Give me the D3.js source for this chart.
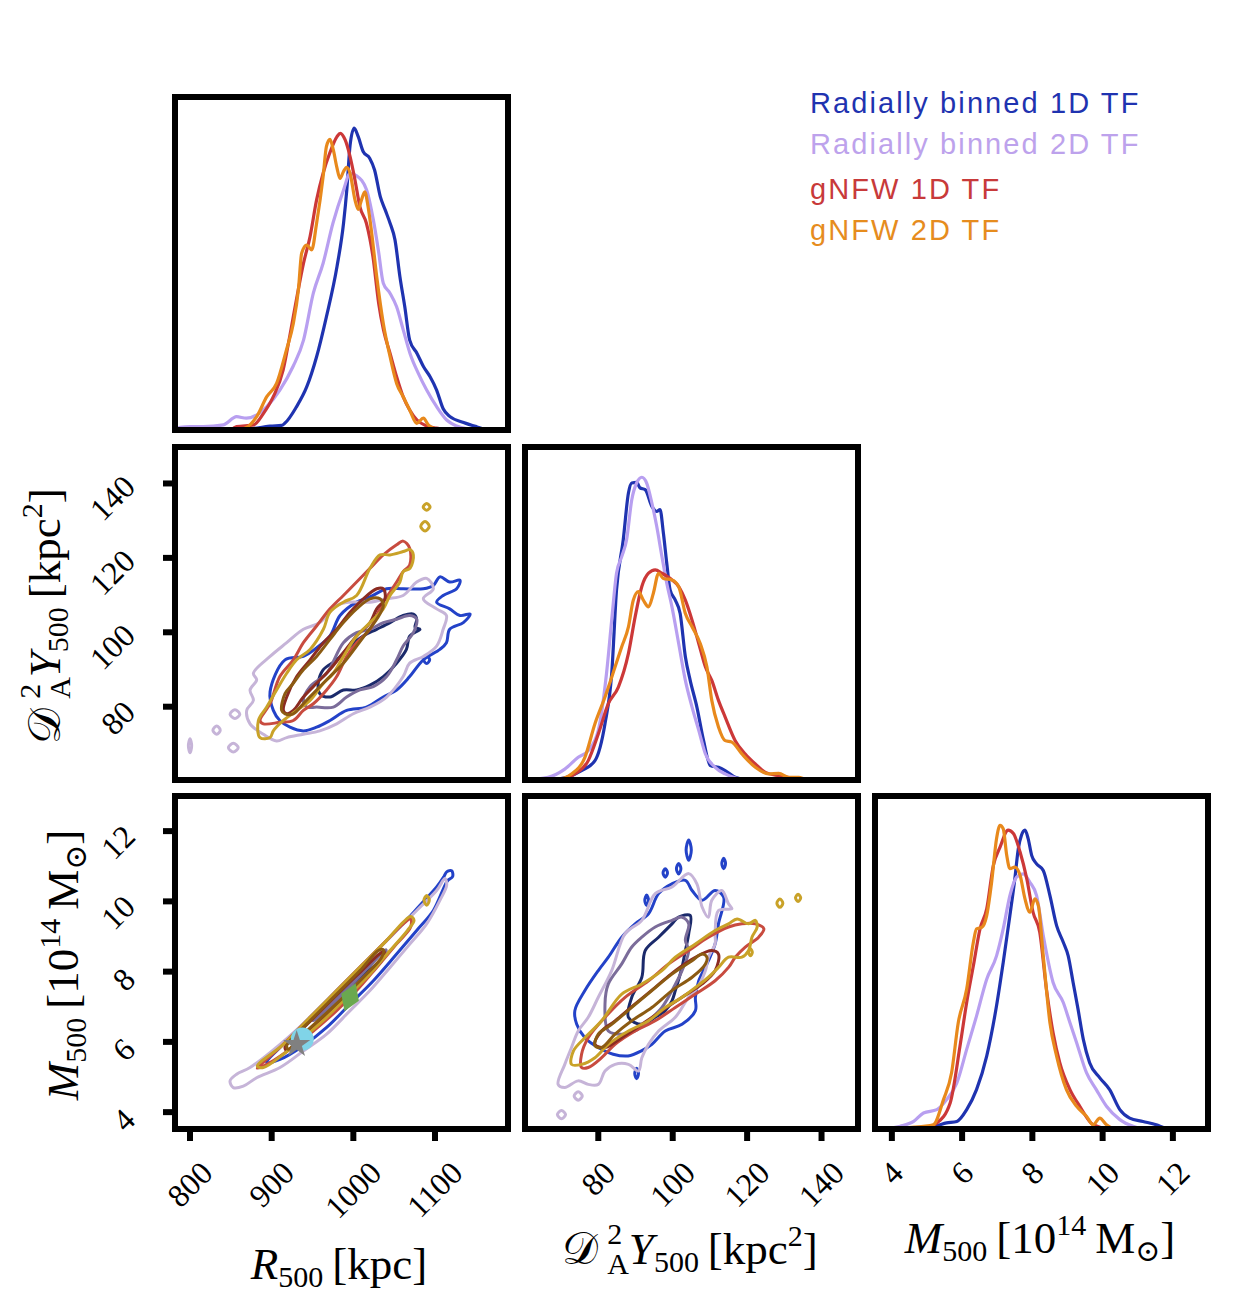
<!DOCTYPE html>
<html><head><meta charset="utf-8">
<script src="https://cdn.jsdelivr.net/npm/d3@7"></script>
<style>body{margin:0;background:#fff}</style>
</head><body>
<svg id="c" width="1233" height="1313"></svg>
<script>
// ---------------- DATA ----------------
const seriesNames = ["Radially binned 1D TF","Radially binned 2D TF","gNFW 1D TF","gNFW 2D TF"];
const R500_ticks = [800,900,1000,1100];
const DY_ticks = [80,100,120,140];
const M500_ticks = [4,6,8,10,12];
const R500_range = [781.6,1189.4];
const DY_range = [60.3,149.8];
const M500_range = [3.52,13.0];

// 1D marginals: [value, normalised density]
const margR_rb1d = [[782,0],[860,0.002],[886,0.008],[898,0.013],[912,0.015],[916,0.022],[930,0.075],[943,0.143],[955,0.242],[967,0.374],[980,0.54],[988,0.683],[992,0.793],[996,0.94],[1001,0.997],[1006,0.969],[1012,0.92],[1020,0.898],[1026,0.859],[1033,0.771],[1039,0.727],[1045,0.683],[1051,0.628],[1057,0.507],[1063,0.407],[1069,0.297],[1078,0.253],[1086,0.209],[1094,0.176],[1102,0.132],[1110,0.07],[1118,0.045],[1135,0.025],[1151,0.011],[1163,0.002],[1189,0]];
const margR_rb2d = [[782,0.005],[788,0.009],[800,0.011],[816,0.011],[841,0.017],[857,0.044],[869,0.039],[882,0.05],[894,0.077],[910,0.132],[926,0.209],[939,0.297],[951,0.452],[963,0.551],[975,0.683],[988,0.793],[996,0.848],[1004,0.84],[1016.3,0.793],[1024.5,0.694],[1030.6,0.595],[1036.7,0.485],[1044.9,0.452],[1053,0.407],[1061.2,0.33],[1069.4,0.253],[1079.6,0.187],[1089.8,0.132],[1102,0.077],[1114.3,0.033],[1126.5,0.013],[1140,0.004],[1160,0]];
const margR_gn1d = [[850,0],[857,0.011],[878,0.017],[890,0.055],[902,0.11],[914,0.198],[922,0.308],[931,0.441],[939,0.551],[947,0.639],[955,0.76],[963,0.848],[971,0.914],[980,0.969],[984,0.98],[990,0.958],[996,0.903],[1002,0.826],[1008,0.738],[1016,0.683],[1024,0.573],[1031,0.419],[1037,0.33],[1045,0.253],[1053,0.176],[1061,0.11],[1069,0.066],[1078,0.033],[1090,0.013],[1102,0.006],[1120,0]];
const margR_gn2d = [[860,0],[873.5,0.017],[881.6,0.044],[894,0.11],[906,0.154],[918,0.264],[926.5,0.352],[932.7,0.463],[936.7,0.584],[942.9,0.611],[949,0.595],[955,0.683],[963,0.837],[967,0.936],[971.4,0.96],[975.5,0.925],[979.6,0.87],[983.7,0.831],[987.8,0.853],[991.8,0.868],[996,0.848],[1002,0.76],[1006,0.729],[1010,0.76],[1014,0.787],[1018,0.738],[1022,0.661],[1028.6,0.507],[1036.7,0.352],[1045,0.242],[1053,0.154],[1061,0.11],[1069,0.066],[1077.6,0.022],[1085.7,0.039],[1091.8,0.017],[1098,0.006],[1110,0]];

const margY_rb1d = [[60.3,0],[66.5,0],[71,0.007],[75.5,0.031],[79.1,0.064],[81.8,0.186],[83.6,0.351],[84.9,0.628],[86.7,0.793],[88.1,0.948],[89,0.981],[90.3,0.983],[91.2,0.965],[92.6,0.959],[94.4,0.904],[95.7,0.887],[96.6,0.893],[97.5,0.815],[98.4,0.716],[99.3,0.628],[100.7,0.594],[102,0.55],[103.4,0.407],[104.7,0.329],[106.5,0.241],[108.3,0.13],[110.1,0.048],[112.3,0.042],[114.1,0.031],[116.8,0.009],[120.4,0],[149.8,0]];
const margY_rb2d = [[60.3,0],[66.5,0.009],[71,0.036],[74.6,0.075],[77.3,0.097],[80,0.164],[82.2,0.351],[83.6,0.528],[84.9,0.683],[86.3,0.738],[87.6,0.793],[89,0.926],[90.3,0.981],[91.7,1.0],[93,0.981],[94.4,0.915],[95.7,0.838],[97.1,0.738],[98.4,0.65],[99.8,0.572],[101.6,0.451],[103.4,0.329],[105.2,0.241],[107,0.164],[108.8,0.086],[111.4,0.042],[114.1,0.02],[116.8,0.007],[119.5,0],[149.8,0]];
const margY_gn1d = [[60.3,0],[70.1,0.003],[73.7,0.02],[77.3,0.064],[80,0.152],[82.7,0.252],[85.4,0.307],[88.1,0.418],[89.9,0.539],[91.7,0.639],[93.5,0.683],[95.3,0.694],[97.1,0.683],[99.8,0.661],[101.6,0.639],[103.4,0.594],[105.2,0.528],[107,0.451],[108.8,0.373],[110.5,0.329],[112.3,0.263],[114.1,0.208],[116.8,0.13],[119.5,0.086],[122.2,0.053],[124.9,0.025],[128.5,0.014],[132.1,0.007],[135.7,0],[149.8,0]];
const margY_gn2d = [[60.3,0],[69.2,0.003],[72.8,0.02],[76.4,0.075],[79.1,0.186],[81.8,0.274],[84.5,0.373],[86.3,0.44],[88.1,0.506],[89.4,0.594],[90.8,0.622],[92.1,0.594],[93.5,0.572],[94.8,0.617],[96.2,0.683],[97.5,0.666],[99.8,0.661],[101.6,0.639],[103.4,0.55],[105.2,0.506],[107.4,0.451],[109.2,0.373],[110.5,0.263],[112.3,0.175],[114.1,0.13],[115.9,0.125],[118.6,0.086],[122.2,0.042],[125.8,0.02],[128.5,0.022],[131.2,0.009],[133.9,0.009],[135.7,0.003],[149.8,0]];

const margM_rb1d = [[3.52,0],[5.18,0.009],[5.56,0.02],[5.85,0.025],[6.13,0.064],[6.41,0.13],[6.7,0.241],[6.98,0.407],[7.17,0.55],[7.36,0.705],[7.5,0.826],[7.6,0.926],[7.69,0.97],[7.79,0.987],[7.88,0.959],[7.98,0.904],[8.12,0.876],[8.31,0.854],[8.5,0.771],[8.69,0.672],[8.88,0.617],[9.02,0.572],[9.16,0.484],[9.3,0.396],[9.45,0.296],[9.63,0.219],[9.92,0.169],[10.2,0.13],[10.49,0.064],[10.77,0.036],[11.15,0.025],[11.53,0.014],[11.81,0.003],[13,0]];
const margM_rb2d = [[3.52,0],[3.67,0],[4.24,0.009],[4.62,0.025],[4.9,0.053],[5.28,0.064],[5.56,0.097],[5.85,0.152],[6.13,0.263],[6.41,0.373],[6.7,0.495],[6.98,0.572],[7.17,0.661],[7.36,0.771],[7.55,0.832],[7.74,0.843],[7.93,0.815],[8.12,0.771],[8.31,0.639],[8.59,0.484],[8.88,0.418],[9.07,0.351],[9.26,0.285],[9.54,0.186],[9.82,0.13],[10.11,0.075],[10.49,0.031],[10.87,0.009],[11.24,0],[13,0]];
const margM_gn1d = [[3.52,0],[4.9,0.003],[5.28,0.02],[5.66,0.086],[5.94,0.274],[6.13,0.418],[6.32,0.539],[6.51,0.661],[6.7,0.727],[6.89,0.871],[7.08,0.931],[7.31,0.987],[7.46,0.976],[7.65,0.915],[7.84,0.827],[8.02,0.716],[8.21,0.65],[8.4,0.462],[8.59,0.318],[8.78,0.219],[9.07,0.13],[9.35,0.075],[9.73,0.014],[10.11,0.003],[13,0]];
const margM_gn2d = [[3.52,0],[4.9,0.009],[5.18,0.014],[5.47,0.097],[5.7,0.186],[5.89,0.351],[6.13,0.462],[6.32,0.617],[6.41,0.661],[6.56,0.666],[6.7,0.705],[6.84,0.815],[6.98,0.959],[7.08,1.003],[7.17,0.992],[7.27,0.904],[7.36,0.86],[7.5,0.865],[7.65,0.838],[7.79,0.76],[7.93,0.716],[8.07,0.76],[8.17,0.738],[8.31,0.572],[8.5,0.351],[8.69,0.241],[8.97,0.13],[9.26,0.075],[9.54,0.042],[9.73,0.014],[9.92,0.036],[10.11,0.014],[10.3,0.003],[13,0]];

// 2D contours (R500 vs DY)
const cRY_rb1d_outer = [[898,84],[916.3,92.6],[938.8,93.5],[955,95.8],[971.4,99],[983.7,104.5],[1004,108.1],[1020.4,109.5],[1040.8,111.7],[1061,111.7],[1085.7,111.7],[1098,112.6],[1106,114.9],[1118,113.5],[1130.6,114],[1126.5,111.7],[1110,109.9],[1102,108.1],[1118,106.3],[1130.6,104.5],[1143,104.9],[1134.7,102.6],[1118,100.8],[1114,97.2],[1106,95.4],[1085.7,92.6],[1069,88.1],[1053,84.5],[1036.7,82.6],[1016,79.9],[991.8,79],[971.4,76.3],[955,74.5],[938.8,73.5],[922.4,74.5],[910,76.3],[902,79]];
const cRY_rb1d_inner = [[957,86.3],[963,89.9],[979.6,92.6],[996,96.3],[1012,99],[1028.6,100.8],[1045,102.6],[1061,104.5],[1073.5,104.9],[1077.6,103.5],[1075.5,101.3],[1081.6,100.8],[1069,99],[1065,95.4],[1053,91.7],[1036.7,88.1],[1020.4,85.8],[1004,84.5],[987.8,84.5],[971.4,82.6],[959,83.5]];
const cRY_rb1d_islands = [[[1086,92.6],[1089.8,93.6],[1093.5,92.6],[1089.8,91.6]]];
const cRY_rb2d_outer = [[877.6,89],[898,93.5],[918.4,97.2],[938.8,100.8],[959,102.6],[979.6,107.2],[996,108.1],[1020.4,108.1],[1040.8,109],[1061,109.9],[1077.6,113.5],[1089.8,114.5],[1098,111.7],[1085.7,109],[1102,106.3],[1114,104.5],[1110,100.8],[1102,96.3],[1085.7,93.5],[1069,91.7],[1061,88.1],[1040.8,82.6],[1020.4,79.9],[1000,78.1],[979.6,75.4],[959,73.5],[938.8,72.6],[918.4,71.7],[906,70.8],[889.8,72.6],[873.5,75.4],[869.4,79],[877.6,81.7],[873.5,84.5],[881.6,87.2]];
const cRY_rb2d_inner = [[938.8,81.7],[947,85.4],[967.3,89],[987.8,97.2],[1004,99.9],[1020.4,100.8],[1036.7,102.6],[1053,103.5],[1069,104.5],[1077.6,103.5],[1073.5,99.9],[1061,96.3],[1053,92.6],[1040.8,88.1],[1024.5,85.4],[1008,84.5],[991.8,82.6],[975.5,79.9],[955,79.9],[942.9,79.9]];
const cRY_rb2d_islands = [[[798,69.5],[800,71.4],[802,69.5],[800,67.6]],[[828,73.7],[832.7,74.8],[837,73.7],[832.7,72.6]],[[849,78],[855,79.2],[861,78],[855,76.8]],[[847,69],[853,70.2],[859,69],[853,67.8]]];
const cRY_gn1d_outer = [[885.7,76.3],[898,80.8],[910,88.1],[926.5,92.6],[938.8,97.2],[955,101.7],[971.4,106.3],[987.8,109.9],[1004,113.5],[1020.4,117.2],[1036.7,120.8],[1053,123.5],[1061,124.5],[1069,122.6],[1069,118.1],[1061,116.3],[1053,113.5],[1045,110.8],[1036.7,108.1],[1028.6,104.5],[1020.4,100.8],[1004,97.2],[991.8,93.5],[979.6,88.1],[967.3,84.5],[951,80.8],[938.8,79],[926.5,76.3],[910,75.8],[889.8,75.4]];
const cRY_gn1d_inner = [[914.3,79],[918.4,82.6],[930.6,88.1],[947,92.6],[963.3,97.2],[979.6,100.8],[996,105.4],[1012.2,109],[1028.6,111.7],[1036.7,111.7],[1038.8,109],[1028.6,106.3],[1020.4,102.6],[1004,99],[987.8,94.5],[971.4,90],[955,86.3],[938.8,82.6],[926.5,79],[918.4,78.1]];
const cRY_gn2d_outer = [[885.7,71.7],[883.7,76.3],[893.9,79.9],[906,84.5],[918.4,89],[930.6,92.6],[947,95.4],[963.3,100.8],[971.4,105.4],[987.8,108.1],[1004,109.9],[1020.4,117.2],[1032.7,120.8],[1044.9,120.8],[1061,121.7],[1069.4,122.2],[1073.5,120.8],[1069.4,117.2],[1061,116.3],[1057,113.5],[1044.9,109.9],[1036.7,106.3],[1020.4,102.6],[1004,99],[987.8,93.5],[975.5,89],[963.3,86.3],[947,81.7],[930.6,79],[914.3,76.3],[902,73.5],[898,71.7]];
const cRY_gn2d_inner = [[912.2,79],[916.3,83.5],[926.5,86.3],[938.8,89.9],[955,93.5],[971.4,98.1],[987.8,102.6],[1004,106.3],[1020.4,109],[1032.7,109],[1036.7,107.2],[1028.6,103.5],[1016.3,99.9],[1004,96.3],[987.8,91.7],[971.4,88.1],[955,84.5],[938.8,80.8],[926.5,78.1],[916.3,78.1]];
const cRY_gn2d_islands = [[[1085.5,133.7],[1089.8,134.6],[1094,133.7],[1089.8,132.8]],[[1082.5,128.5],[1087.8,129.8],[1093,128.5],[1087.8,127.2]]];

// 2D contours (R500 vs M500)
const cRM_rb1d_outer = [[893.9,5.41],[918.4,6.03],[951,6.79],[987.8,7.65],[1020.4,8.41],[1053,9.17],[1081.6,9.89],[1102,10.41],[1111,10.71],[1114.3,10.84],[1120.4,10.87],[1121.6,10.71],[1115.1,10.58],[1109.4,10.31],[1098,9.74],[1077.6,9.17],[1053,8.5],[1024.5,7.74],[996,7.08],[967.3,6.41],[938.8,5.89],[910.2,5.5]];
const cRM_rb1d_inner = [[953,6.7],[987.8,7.46],[1020.4,8.22],[1038.8,8.6],[1036.7,8.41],[1016.3,7.98],[987.8,7.36],[961.2,6.79]];
const cRM_rb2d_outer = [[853,4.7],[849,4.89],[857,5.08],[873.5,5.27],[910.2,5.93],[947,6.7],[979.6,7.46],[1012.2,8.22],[1044.9,8.98],[1077.6,9.74],[1102,10.31],[1112.2,10.65],[1114.3,10.46],[1106,10.03],[1089.8,9.36],[1069.4,8.79],[1044.9,8.12],[1020.4,7.46],[996,6.89],[967.3,6.22],[938.8,5.74],[910.2,5.27],[881.6,4.98],[865.3,4.74]];
const cRM_rb2d_inner = [[951,6.6],[987.8,7.41],[1020.4,8.17],[1040,8.62],[1037.5,8.4],[1016.3,7.93],[987.8,7.31],[959,6.72]];
const cRM_gn1d_outer = [[882.4,5.25],[910.2,5.84],[947,6.7],[979.6,7.46],[1012.2,8.22],[1040.8,8.89],[1061.2,9.36],[1070.2,9.5],[1070.2,9.27],[1053,8.79],[1028.6,8.12],[1004,7.46],[979.6,6.89],[951,6.31],[922.4,5.79],[898,5.41]];
const cRM_gn1d_inner = [[916.3,5.84],[947,6.58],[979.6,7.34],[1008.2,7.98],[1031.8,8.5],[1037.6,8.58],[1035.9,8.36],[1016.3,7.89],[991.8,7.31],[963.3,6.7],[938.8,6.17],[918.4,5.76]];
const cRM_gn2d_outer = [[882.4,5.31],[914.3,5.93],[947,6.7],[979.6,7.46],[1012.2,8.22],[1040.8,8.89],[1061.2,9.41],[1070.2,9.57],[1074.3,9.46],[1066.1,9.17],[1044.9,8.6],[1020.4,7.93],[991.8,7.27],[967.3,6.7],[938.8,6.12],[914.3,5.65],[889.8,5.27]];
const cRM_gn2d_inner = [[918.4,5.89],[947,6.6],[979.6,7.36],[1008.2,8.03],[1030.6,8.6],[1036.7,8.62],[1034.7,8.41],[1016.3,7.93],[991.8,7.36],[963.3,6.74],[938.8,6.22],[920.4,5.79]];
const cRM_gn2d_islands = [[[1086.5,10.03],[1089.8,10.17],[1093,10.03],[1089.8,9.89]]];

// 2D contours (DY vs M500)
const cYM_rb1d_outer = [[74.2,6.5],[73.7,6.89],[76.4,7.46],[80,8.03],[82.7,8.41],[86.3,8.98],[89.9,9.36],[93.5,9.65],[96.2,10.22],[99.8,10.5],[103.4,10.6],[105.2,10.31],[107.9,10.03],[111.4,10.31],[113.7,10.12],[112.3,9.36],[111.4,8.79],[109.6,8.31],[107,7.74],[106.1,7.27],[106.1,6.89],[102.5,6.5],[98,6.31],[94.4,5.93],[91.7,5.75],[88,5.6],[84,5.65],[80,5.84],[76.4,6.12]];
const cYM_rb1d_inner = [[88.1,6.7],[89,7.27],[91.7,7.84],[92.6,8.6],[96.2,8.98],[99.8,9.36],[101.6,9.55],[104.7,9.6],[104.3,9.08],[103.4,8.6],[102.5,8.12],[100.7,7.46],[99.8,7.17],[98,6.89],[95.3,6.7],[91.7,6.5]];
const cYM_rb1d_islands = [[[103.6,11.46],[104.3,11.75],[105,11.46],[104.3,11.17]],[[101,10.93],[101.6,11.08],[102.2,10.93],[101.6,10.78]],[[97.4,10.81],[98,10.93],[98.6,10.81],[98,10.69]],[[92.5,10.03],[93,10.18],[93.5,10.03],[93,9.88]],[[113.2,11.08],[113.7,11.23],[114.2,11.08],[113.7,10.93]],[[89.8,5.1],[90.3,5.25],[90.8,5.1],[90.3,4.95]]];
const cYM_rb2d_outer = [[69.2,4.79],[71,5.36],[72.8,5.84],[74.6,6.31],[77.3,6.7],[80,7.27],[83.6,8.03],[87.2,9.08],[91.7,9.46],[95.3,10.22],[99.8,10.41],[104.3,10.79],[106.5,10.5],[107.9,9.84],[109.6,9.55],[110.5,10.03],[113.2,10.31],[115,9.93],[115.9,9.79],[112.3,9.74],[111.4,9.08],[111.4,8.79],[109.6,8.41],[108.8,8.03],[106.1,7.46],[104.3,7.27],[100.7,6.7],[96.2,6.31],[93.5,5.93],[91.7,5.55],[90.8,5.17],[88.1,5.36],[84.5,5.36],[81.8,5.17],[80,4.79],[77.3,4.79],[74.6,4.89],[71,4.7]];
const cYM_rb2d_inner = [[81.8,7.08],[82.7,7.65],[86.3,8.22],[89,8.7],[91.7,8.98],[95.3,9.27],[99.8,9.46],[102.5,9.55],[104.3,9.36],[103.4,8.89],[104.3,8.6],[102.5,8.03],[99.8,7.46],[97.1,6.98],[93.5,6.6],[89.9,6.31],[86.3,6.22],[82.7,6.31]];
const cYM_rb2d_islands = [[[69,3.93],[70.1,4.05],[71.2,3.93],[70.1,3.81]],[[73.5,4.46],[74.6,4.58],[75.7,4.46],[74.6,4.34]]];
const cYM_gn1d_outer = [[75.5,5.27],[75.5,5.65],[77.3,6.12],[81.8,6.7],[87.2,7.27],[93.5,7.74],[98.9,8.22],[104.3,8.6],[109.6,8.98],[115,9.27],[118.6,9.36],[122.2,9.36],[124.5,9.22],[123.1,8.98],[119.5,8.7],[116.8,8.41],[115,8.12],[111.4,7.74],[106.1,7.36],[100.7,6.98],[95.3,6.6],[89.9,6.31],[84.5,5.93],[80.9,5.55],[77.3,5.27]];
const cYM_gn1d_inner = [[79.1,5.93],[80.9,6.31],[84.5,6.6],[89.9,7.08],[95.3,7.55],[100.7,8.03],[106.1,8.41],[110.5,8.6],[112.3,8.5],[111.4,8.03],[107.9,7.65],[102.5,7.27],[97.1,6.89],[91.7,6.5],[86.3,6.12],[81.8,5.84]];
const cYM_gn2d_outer = [[72.8,5.36],[73.3,5.74],[76.4,6.12],[80.9,6.6],[86.3,7.36],[91.7,7.65],[97.1,8.03],[100.7,8.41],[106.1,8.79],[111.4,9.17],[115,9.36],[117.3,9.5],[120.4,9.36],[122.2,9.46],[122.7,9.27],[121.3,8.98],[120.4,8.6],[118.6,8.41],[115,8.41],[112.3,8.12],[109.6,7.84],[106.1,7.55],[102.5,7.27],[98,6.98],[93.5,6.6],[88.1,6.31],[82.7,5.93],[79.1,5.55],[75.5,5.36]];
const cYM_gn2d_inner = [[79.1,5.89],[80,6.22],[83.6,6.5],[89,6.98],[94.4,7.46],[99.8,7.93],[105.2,8.31],[107.9,8.5],[109.2,8.41],[108.8,8.22],[105.2,7.84],[99.8,7.46],[94.4,6.98],[89,6.6],[84.5,6.22],[80.9,5.84]];
const cYM_gn2d_islands = [[[128,9.95],[128.8,10.07],[129.6,9.95],[128.8,9.83]],[[133,10.1],[133.7,10.2],[134.4,10.1],[133.7,10.0]],[[120.4,8.55],[120.9,8.65],[121.4,8.55],[120.9,8.45]]];

// reference markers in R500-M500 plane
const markerType = ["diamond","circle","star"];
const markerR = [996,937.5,930.6];
const markerM = [7.27,6.08,5.93];

// ---------------- STYLE ----------------
const margColors = ["#1f33b0","#b89ff0","#cc3838","#e8891c"];
const outerColors = ["#2342c8","#c6b4d8","#c84b3f","#c9a228"];
const innerColors = ["#1b2a6b","#7b6c9a","#8b2b22","#8b5a12"];
const legendColors = ["#1f33b0","#bda2ec","#c83a3a","#e68c1e"];
const markerColors = {diamond:"#6aa84f",circle:"#80d4e8",star:"#808080"};
const serif = "'Liberation Serif','DejaVu Serif',serif";
const sans = "'Liberation Sans',Arial,Helvetica,sans-serif";

const S = 333;
const colX = [175,525,875], rowY = [97,447,796];
const svg = d3.select("#c");
svg.append("rect").attr("width",1233).attr("height",1313).attr("fill","#fff");
const defs = svg.append("defs");

function panel(ci, ri, xDom, yDom, id) {
  const x = d3.scaleLinear().domain(xDom).range([colX[ci], colX[ci]+S]);
  const y = d3.scaleLinear().domain(yDom).range([rowY[ri]+S, rowY[ri]]);
  defs.append("clipPath").attr("id",id).append("rect")
    .attr("x",colX[ci]).attr("y",rowY[ri]).attr("width",S).attr("height",S);
  const g = svg.append("g").attr("clip-path",`url(#${id})`);
  return {x,y,g,ci,ri};
}
function frame(p){
  svg.append("rect").attr("x",colX[p.ci]).attr("y",rowY[p.ri]).attr("width",S).attr("height",S)
    .attr("fill","none").attr("stroke","#000").attr("stroke-width",6);
}
function marginal(p, curves){
  const line = d3.line().x(d=>p.x(d[0])).y(d=>p.y(d[1])).curve(d3.curveMonotoneX);
  curves.forEach((c,i)=>{
    p.g.append("path").attr("d",line(c)).attr("fill","none")
      .attr("stroke",margColors[i]).attr("stroke-width",3.2).attr("stroke-linejoin","round");
  });
}
function contours(p, sets){
  const line = d3.line().x(d=>p.x(d[0])).y(d=>p.y(d[1])).curve(d3.curveCatmullRomClosed.alpha(0.5));
  sets.forEach((s,i)=>{
    const draw=(pts,col)=>p.g.append("path").attr("d",line(pts)).attr("fill","none")
      .attr("stroke",col).attr("stroke-width",3).attr("stroke-linejoin","round");
    draw(s.outer, outerColors[i]);
    (s.islands||[]).forEach(isl=>draw(isl, outerColors[i]));
    draw(s.inner, innerColors[i]);
  });
}

function tickLabel(txt, cx, cy, mode, ref){
  const fs = 32;
  const t = svg.append("text").attr("font-family",serif).attr("font-size",fs)
    .attr("text-anchor","middle").attr("fill","#000").text(txt);
  const w = t.node().getComputedTextLength();
  const h = 0.66*fs;
  const ext = (w+h)/Math.SQRT2;
  let x,y;
  if(mode==="bottom"){ x=cx; y=ref+ext/2; }
  else { x=ref-ext/2; y=cy+0.3*ext; }
  t.attr("y",h/2).attr("transform",`translate(${x},${y}) rotate(-45)`);
}
function xTicks(p, ticks){
  const yb = rowY[p.ri]+S;
  ticks.forEach(v=>{
    svg.append("line").attr("x1",p.x(v)).attr("x2",p.x(v)).attr("y1",yb).attr("y2",yb+12)
      .attr("stroke","#000").attr("stroke-width",6);
    tickLabel(String(v), p.x(v), 0, "bottom", 1160);
  });
}
function yTicks(p, ticks){
  const xl = colX[p.ci];
  ticks.forEach(v=>{
    svg.append("line").attr("x1",xl).attr("x2",xl-12).attr("y1",p.y(v)).attr("y2",p.y(v))
      .attr("stroke","#000").attr("stroke-width",6);
    tickLabel(String(v), 0, p.y(v), "left", 137);
  });
}

// ---------------- PANELS ----------------
const pR = panel(0,0,R500_range,[0,1.1],"cp1");
marginal(pR,[margR_rb1d,margR_rb2d,margR_gn1d,margR_gn2d]);
frame(pR);

const pRY = panel(0,1,R500_range,DY_range,"cp2");
contours(pRY,[
  {outer:cRY_rb1d_outer,inner:cRY_rb1d_inner,islands:cRY_rb1d_islands},
  {outer:cRY_rb2d_outer,inner:cRY_rb2d_inner,islands:cRY_rb2d_islands},
  {outer:cRY_gn1d_outer,inner:cRY_gn1d_inner},
  {outer:cRY_gn2d_outer,inner:cRY_gn2d_inner,islands:cRY_gn2d_islands}]);
frame(pRY); yTicks(pRY, DY_ticks);

const pY = panel(1,1,DY_range,[0,1.1],"cp3");
marginal(pY,[margY_rb1d,margY_rb2d,margY_gn1d,margY_gn2d]);
frame(pY);

const pRM = panel(0,2,R500_range,M500_range,"cp4");
contours(pRM,[
  {outer:cRM_rb1d_outer,inner:cRM_rb1d_inner},
  {outer:cRM_rb2d_outer,inner:cRM_rb2d_inner},
  {outer:cRM_gn1d_outer,inner:cRM_gn1d_inner},
  {outer:cRM_gn2d_outer,inner:cRM_gn2d_inner,islands:cRM_gn2d_islands}]);
// markers
markerType.forEach((t,i)=>{
  const cx=pRM.x(markerR[i]), cy=pRM.y(markerM[i]);
  if(t==="circle") pRM.g.append("circle").attr("cx",cx).attr("cy",cy).attr("r",11.5).attr("fill",markerColors.circle);
  else if(t==="diamond") pRM.g.append("path").attr("d","M0,-15L9.5,0L0,15L-9.5,0Z")
      .attr("transform",`translate(${cx},${cy}) rotate(22)`).attr("fill",markerColors.diamond);
  else pRM.g.append("path").attr("d",d3.symbol(d3.symbolStar,230)())
      .attr("transform",`translate(${cx},${cy})`).attr("fill",markerColors.star);
});
frame(pRM); yTicks(pRM, M500_ticks); xTicks(pRM, R500_ticks);

const pYM = panel(1,2,DY_range,M500_range,"cp5");
contours(pYM,[
  {outer:cYM_rb1d_outer,inner:cYM_rb1d_inner,islands:cYM_rb1d_islands},
  {outer:cYM_rb2d_outer,inner:cYM_rb2d_inner,islands:cYM_rb2d_islands},
  {outer:cYM_gn1d_outer,inner:cYM_gn1d_inner},
  {outer:cYM_gn2d_outer,inner:cYM_gn2d_inner,islands:cYM_gn2d_islands}]);
frame(pYM); xTicks(pYM, DY_ticks);

const pM = panel(2,2,M500_range,[0,1.1],"cp6");
marginal(pM,[margM_rb1d,margM_rb2d,margM_gn1d,margM_gn2d]);
frame(pM); xTicks(pM, M500_ticks);

// ---------------- AXIS LABELS ----------------
const LFS = 45, SFS = 30;
function labelR(t){
  t.append("tspan").attr("font-style","italic").text("R");
  t.append("tspan").attr("font-size",SFS).attr("dy",8).text("500");
  t.append("tspan").attr("dy",-8).text("\u2009[kpc]");
}
function labelY(t){
  t.append("tspan").text("\uD835\uDC9F");
  t.append("tspan").attr("font-size",SFS).attr("dx",9).attr("dy",-20).text("2");
  t.append("tspan").attr("font-size",SFS).attr("dx",-15).attr("dy",30).text("A");
  t.append("tspan").attr("font-style","italic").attr("dy",-10).text("Y");
  t.append("tspan").attr("font-size",SFS).attr("dy",8).text("500");
  t.append("tspan").attr("dy",-8).text("\u2009[kpc");
  t.append("tspan").attr("font-size",SFS).attr("dy",-18).text("2");
  t.append("tspan").attr("dy",18).text("]");
}
function labelM(t){
  t.append("tspan").attr("font-style","italic").text("M");
  t.append("tspan").attr("font-size",SFS).attr("dy",8).text("500");
  t.append("tspan").attr("dy",-8).text("\u2009[10");
  t.append("tspan").attr("font-size",SFS).attr("dy",-18).text("14");
  t.append("tspan").attr("dy",18).text("\u2009M");
  t.append("tspan").attr("font-size",SFS).attr("dy",8).text("\u2299");
  t.append("tspan").attr("dy",-8).text("]");
}
function axLabel(fn, x, y, rot){
  const t = svg.append("text").attr("font-family",serif).attr("font-size",LFS)
    .attr("text-anchor","middle").attr("fill","#000")
    .attr("transform",`translate(${x},${y})${rot?" rotate(-90)":""}`);
  fn(t);
}
axLabel(labelR, 339, 1279, false);
axLabel(labelY, 690, 1264, false);
axLabel(labelM, 1040, 1253, false);
axLabel(labelY, 60, 616, true);
axLabel(labelM, 78, 965, true);

// ---------------- LEGEND ----------------
const legendY = [113,154,199,240];
seriesNames.forEach((n,i)=>{
  svg.append("text").attr("x",810).attr("y",legendY[i]).attr("font-family",sans)
    .attr("font-size",29).attr("letter-spacing",2.1).attr("fill",legendColors[i]).text(n);
});
</script>
</body></html>
